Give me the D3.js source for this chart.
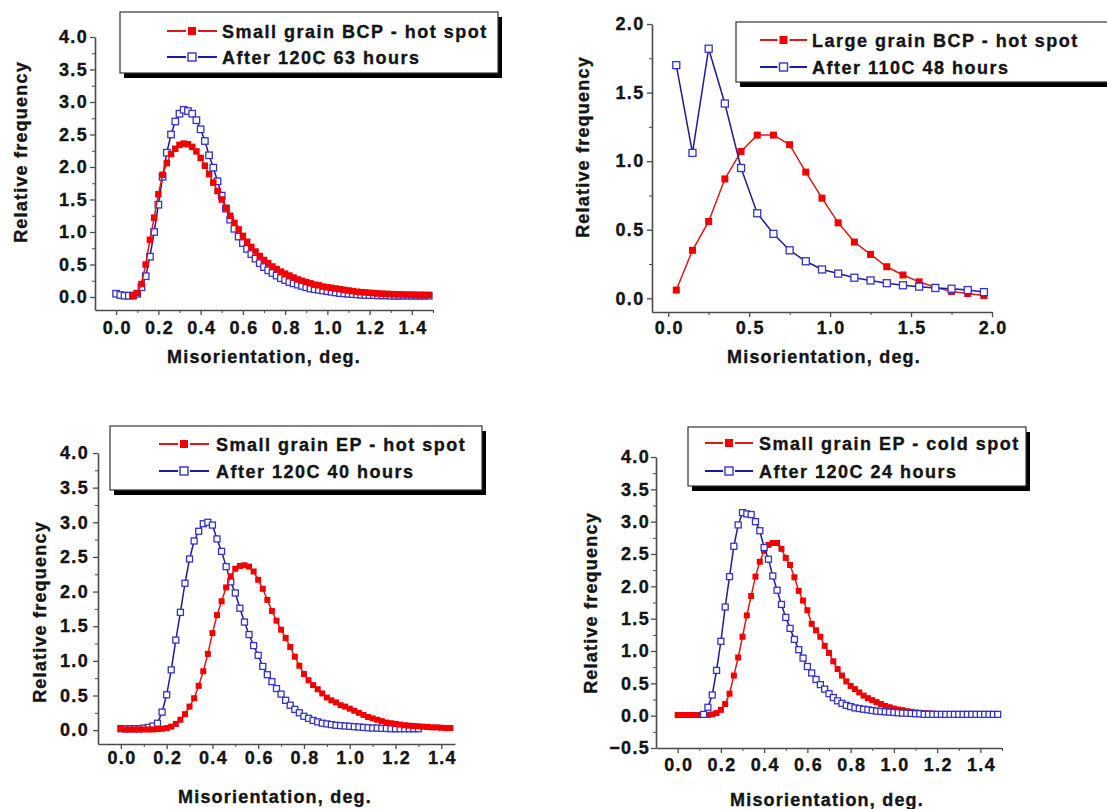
<!DOCTYPE html>
<html><head><meta charset="utf-8">
<script src="https://cdn.jsdelivr.net/npm/d3@7"></script>
<style>
html,body{margin:0;padding:0;background:#fff;}
svg text{font-family:"Liberation Sans",Arial,Helvetica,sans-serif;font-weight:bold;fill:#141414;stroke:#141414;stroke-width:0.35px;}
.tick text{font-size:18px;letter-spacing:1.3px;}
.title{font-size:18px;letter-spacing:1.2px;}
.leg{font-size:18px;letter-spacing:1.5px;}
</style></head><body>
<svg id="c" width="1107" height="809"></svg>
<script>
// ---------- shared x grid (deg.) ----------
const grid = [0.00,0.02,0.04,0.06,0.08,0.10,0.12,0.14,0.16,0.18,0.20,0.22,0.24,0.26,0.28,0.30,0.32,0.34,0.36,0.38,0.40,0.42,0.44,0.46,0.48,
  0.50,0.52,0.54,0.56,0.58,0.60,0.62,0.64,0.66,0.68,0.70,0.72,0.74,0.76,0.78,0.80,0.82,0.84,0.86,0.88,0.90,0.92,0.94,0.96,0.98,
  1.00,1.02,1.04,1.06,1.08,1.10,1.12,1.14,1.16,1.18,1.20,1.22,1.24,1.26,1.28,1.30,1.32,1.34,1.36,1.38,1.40,1.42,1.44,1.46,1.48];

// ---------- Panel 1: Small grain BCP - hot spot (x from 0.08) / After 120C 63 hours (x from 0.00) ----------
const p1RedY = [0.02,0.06,0.20,0.50,0.88,1.22,1.58,1.88,2.06,2.20,2.28,2.34,2.36,2.35,2.31,2.24,2.14,2.02,1.89,1.76,1.63,1.50,
  1.37,1.25,1.14,1.04,0.94,0.85,0.77,0.70,0.63,0.57,0.52,0.47,0.43,0.39,0.36,0.33,0.30,0.27,0.25,0.23,0.21,0.19,0.18,0.16,0.15,
  0.14,0.13,0.12,0.11,0.10,0.09,0.08,0.075,0.07,0.065,0.06,0.055,0.05,0.048,0.045,0.042,0.04,0.038,0.036,0.034,0.032,0.03,0.03,0.03];
const p1BlueY = [0.05,0.03,0.02,0.02,0.02,0.05,0.15,0.32,0.62,1.00,1.42,1.85,2.22,2.50,2.70,2.82,2.88,2.86,2.82,2.72,2.58,2.40,2.18,1.99,1.78,
  1.56,1.36,1.19,1.05,0.93,0.83,0.74,0.66,0.59,0.52,0.46,0.41,0.37,0.33,0.29,0.26,0.23,0.21,0.19,0.17,0.15,0.13,0.12,0.11,0.10,
  0.09,0.08,0.07,0.06,0.055,0.05,0.045,0.04,0.035,0.03,0.03,0.03,0.025,0.025,0.025,0.02,0.02,0.02,0.02,0.02,0.02,0.02,0.02,0.02,0.02];

// ---------- Panel 2: Large grain BCP - hot spot / After 110C 48 hours ----------
const p2X = [0.05,0.15,0.25,0.35,0.45,0.55,0.65,0.75,0.85,0.95,1.05,1.15,1.25,1.35,1.45,1.55,1.65,1.75,1.85,1.95];
const p2RedY = [0.06,0.35,0.56,0.87,1.07,1.19,1.19,1.12,0.92,0.73,0.55,0.41,0.32,0.23,0.17,0.12,0.08,0.05,0.035,0.02];
const p2BlueY = [1.70,1.06,1.82,1.42,0.95,0.62,0.47,0.35,0.27,0.21,0.18,0.15,0.13,0.11,0.095,0.085,0.075,0.07,0.06,0.045];

// ---------- Panel 3: Small grain EP - hot spot (x 0.00-1.44) / After 120C 40 hours (x 0.00-1.30) ----------
const p3RedY = [0.03,0.01,0.01,0.01,0.01,0.01,0.01,0.01,0.015,0.02,0.03,0.05,0.09,0.15,0.23,0.34,0.46,0.64,0.85,1.10,1.40,1.66,1.86,2.06,2.22,
  2.33,2.37,2.38,2.36,2.29,2.17,2.04,1.88,1.72,1.58,1.45,1.33,1.20,1.06,0.93,0.81,0.72,0.65,0.59,0.53,0.47,0.43,0.40,0.36,0.34,
  0.31,0.28,0.25,0.22,0.19,0.17,0.15,0.13,0.11,0.10,0.09,0.08,0.07,0.065,0.06,0.055,0.05,0.045,0.04,0.04,0.035,0.03,0.03];
const p3BlueY = [0.02,0.02,0.02,0.02,0.02,0.03,0.04,0.06,0.10,0.26,0.51,0.87,1.30,1.70,2.12,2.47,2.73,2.87,2.98,3.00,2.96,2.76,2.58,2.36,2.14,
  1.98,1.76,1.56,1.38,1.22,1.08,0.92,0.80,0.70,0.60,0.52,0.43,0.36,0.30,0.25,0.20,0.17,0.14,0.12,0.10,0.09,0.08,0.07,0.065,0.06,
  0.055,0.05,0.045,0.04,0.035,0.03,0.03,0.025,0.025,0.02,0.02,0.02,0.02,0.02,0.02,0.02];

// ---------- Panel 4: Small grain EP - cold spot (x 0.00-1.38) / After 120C 24 hours (x 0.12-1.48) ----------
const p4RedY = [0.01,0.01,0.01,0.01,0.01,0.01,0.01,0.01,0.02,0.04,0.09,0.18,0.34,0.62,0.90,1.22,1.55,1.85,2.15,2.38,2.55,2.64,2.67,2.67,2.58,
  2.44,2.33,2.14,1.93,1.78,1.63,1.42,1.32,1.22,1.08,0.97,0.84,0.72,0.62,0.53,0.46,0.41,0.36,0.31,0.27,0.24,0.21,0.18,0.15,0.13,
  0.11,0.095,0.085,0.07,0.06,0.05,0.045,0.04,0.035,0.03,0.025,0.02,0.02,0.02,0.02,0.02,0.02,0.02,0.02,0.02];
const p4BlueY = [0.02,0.13,0.32,0.70,1.15,1.68,2.15,2.62,2.95,3.14,3.12,3.11,3.00,2.86,2.60,2.42,2.16,1.94,1.72,
  1.52,1.35,1.18,1.02,0.89,0.76,0.66,0.56,0.48,0.41,0.34,0.28,0.23,0.19,0.16,0.14,0.12,0.11,0.10,0.09,0.08,0.07,0.065,0.06,0.055,
  0.05,0.045,0.04,0.038,0.035,0.03,0.03,0.02,0.02,0.02,0.02,0.02,0.02,0.02,0.02,0.02,0.02,0.02,0.02,0.02,0.02,0.02,0.02,0.02,0.02];

// ---------- ticks ----------
const xMajor15 = [0.0,0.2,0.4,0.6,0.8,1.0,1.2,1.4];
const xMinor15 = [0.1,0.3,0.5,0.7,0.9,1.1,1.3,1.5];
const xMinor14 = [0.1,0.3,0.5,0.7,0.9,1.1,1.3];
const xMajor20 = [0.0,0.5,1.0,1.5,2.0];
const xMinor20 = [0.25,0.75,1.25,1.75];
const yMajor40 = [0.0,0.5,1.0,1.5,2.0,2.5,3.0,3.5,4.0];
const yMinor40 = [0.25,0.75,1.25,1.75,2.25,2.75,3.25,3.75];
const yMajor20 = [0.0,0.5,1.0,1.5,2.0];
const yMinor20 = [0.25,0.75,1.25,1.75];
const yMajor4n = [-0.5,0.0,0.5,1.0,1.5,2.0,2.5,3.0,3.5,4.0];
const yMinor4n = [-0.25,0.25,0.75,1.25,1.75,2.25,2.75,3.25,3.75];

const xTitle = "Misorientation, deg.";
const yTitle = "Relative frequency";

const panels = [
  { legend:["Small grain BCP - hot spot","After 120C 63 hours"],
    red:{x:grid.slice(4), y:p1RedY}, blue:{x:grid.slice(0), y:p1BlueY}, blueOnTop:false,
    xDom:[-0.1,1.5], yDom:[-0.2,4.0], xR:[95,433], yR:[310,37],
    xMaj:xMajor15, xMin:xMinor15, yMaj:yMajor40, yMin:yMinor40,
    xPad:6, yPad:2, ms:6.5, box:[120,12,498,73], ll:[167,217], lt:222, rows:[31,57],
    xt:[264,363], yt:[27,152] },
  { legend:["Large grain BCP - hot spot","After 110C 48 hours"],
    red:{x:p2X, y:p2RedY}, blue:{x:p2X, y:p2BlueY}, blueOnTop:true,
    xDom:[-0.1,2.0], yDom:[-0.1,2.0], xR:[652,992], yR:[312,24],
    xMaj:xMajor20, xMin:xMinor20, yMaj:yMajor20, yMin:yMinor20,
    xPad:4, yPad:2.5, ms:7, box:[736,22,1120,82], ll:[760,807], lt:812, rows:[40,67],
    xt:[824,363], yt:[589,147] },
  { legend:["Small grain EP - hot spot","After 120C 40 hours"],
    red:{x:grid.slice(0,73), y:p3RedY}, blue:{x:grid.slice(0,66), y:p3BlueY}, blueOnTop:false,
    xDom:[-0.1,1.46], yDom:[-0.2,4.0], xR:[98,455], yR:[744,453],
    xMaj:xMajor15, xMin:xMinor14, yMaj:yMajor40, yMin:yMinor40,
    xPad:2, yPad:4, ms:6, box:[110,426,482,490], ll:[159,209], lt:216, rows:[444,471],
    xt:[275,803], yt:[46,612] },
  { legend:["Small grain EP - cold spot","After 120C 24 hours"],
    red:{x:grid.slice(0,70), y:p4RedY}, blue:{x:grid.slice(6), y:p4BlueY}, blueOnTop:true,
    xDom:[-0.1,1.5], yDom:[-0.5,4.0], xR:[656,1002], yR:[748,457],
    xMaj:xMajor15, xMin:xMinor15, yMaj:yMajor4n, yMin:yMinor4n,
    xPad:5, yPad:1, ms:6, box:[688,427,1026,486], ll:[705,753], lt:759, rows:[443,471],
    xt:[827,806], yt:[597,603] }
];

const RED = "#f20000", RED_LINE = "#e01818", BLUE = "#3434c8", BLUE_LINE = "#1c1c9a", AXIS = "#4a4a4a";
const svg = d3.select("#c");
const fmt = d3.format(".1f");

panels.forEach(p => {
  const g = svg.append("g");
  const x = d3.scaleLinear().domain(p.xDom).range(p.xR);
  const y = d3.scaleLinear().domain(p.yDom).range(p.yR);

  // minor ticks
  g.append("g").attr("transform",`translate(0,${p.yR[0]})`)
    .call(d3.axisBottom(x).tickValues(p.xMin).tickSize(3).tickFormat("").tickSizeOuter(0))
    .call(a=>a.select(".domain").remove());
  g.append("g").attr("transform",`translate(${p.xR[0]},0)`)
    .call(d3.axisLeft(y).tickValues(p.yMin).tickSize(3).tickFormat("").tickSizeOuter(0))
    .call(a=>a.select(".domain").remove());
  // major axes
  const ax = g.append("g").attr("transform",`translate(0,${p.yR[0]})`)
    .call(d3.axisBottom(x).tickValues(p.xMaj).tickFormat(fmt).tickSize(5).tickPadding(p.xPad).tickSizeOuter(0));
  const ay = g.append("g").attr("transform",`translate(${p.xR[0]},0)`)
    .call(d3.axisLeft(y).tickValues(p.yMaj).tickFormat(fmt).tickSize(5).tickPadding(p.yPad).tickSizeOuter(0));
  [ax, ay].forEach(a => {
    a.attr("font-size", null).attr("font-family", null).attr("color", AXIS);
    a.selectAll("line").attr("stroke-width", 1.3);
    a.select(".domain").attr("stroke-width", 1.6);
  });
  g.selectAll(".tick line").attr("stroke", AXIS);
  ax.selectAll(".tick text").attr("dx", "0.6px");

  // titles
  g.append("text").attr("class","title").attr("x",p.xt[0]).attr("y",p.xt[1])
    .attr("text-anchor","middle").text(xTitle);
  g.append("text").attr("class","title").attr("text-anchor","middle")
    .attr("transform",`translate(${p.yt[0]},${p.yt[1]}) rotate(-90)`).text(yTitle);

  // data
  const line = d3.line().x(d=>x(d[0])).y(d=>y(d[1]));
  const drawSeries = (s, filled) => {
    const pts = s.x.map((v,i)=>[v, s.y[i]]);
    g.append("path").datum(pts).attr("d", line).attr("fill","none")
      .attr("stroke", filled ? RED_LINE : BLUE_LINE).attr("stroke-width", 1.5);
    const m = p.ms;
    g.append("g").selectAll("rect").data(pts).join("rect")
      .attr("x", d=>x(d[0])-m/2).attr("y", d=>y(d[1])-m/2)
      .attr("width", m).attr("height", m)
      .attr("fill", filled ? RED : "#fff")
      .attr("stroke", filled ? "none" : BLUE).attr("stroke-width", filled ? 0 : 1.3);
  };
  if (p.blueOnTop) { drawSeries(p.red, true); drawSeries(p.blue, false); }
  else { drawSeries(p.blue, false); drawSeries(p.red, true); }

  // legend
  const [bx0, by0, bx1, by1] = p.box;
  const lg = g.append("g");
  lg.append("rect").attr("x", bx0+4).attr("y", by0+5).attr("width", bx1-bx0).attr("height", by1-by0).attr("fill", "#000");
  lg.append("rect").attr("x", bx0).attr("y", by0).attr("width", bx1-bx0).attr("height", by1-by0)
    .attr("fill", "#fff").attr("stroke", "#333").attr("stroke-width", 1.2);
  const cx = (p.ll[0]+p.ll[1])/2, lm = 8;
  p.legend.forEach((label, i) => {
    const cy = p.rows[i], filled = i===0;
    const col = filled ? RED_LINE : BLUE_LINE;
    lg.append("line").attr("x1", p.ll[0]).attr("x2", cx-lm/2-2).attr("y1", cy).attr("y2", cy).attr("stroke", col).attr("stroke-width", 2);
    lg.append("line").attr("x1", cx+lm/2+2).attr("x2", p.ll[1]).attr("y1", cy).attr("y2", cy).attr("stroke", col).attr("stroke-width", 2);
    lg.append("rect").attr("x", cx-lm/2).attr("y", cy-lm/2).attr("width", lm).attr("height", lm)
      .attr("fill", filled ? RED : "#fff").attr("stroke", filled ? "none" : BLUE).attr("stroke-width", 1.4);
    lg.append("text").attr("class","leg").attr("x", p.lt).attr("y", cy+6.5).text(label);
  });
});
</script>
</body></html>
